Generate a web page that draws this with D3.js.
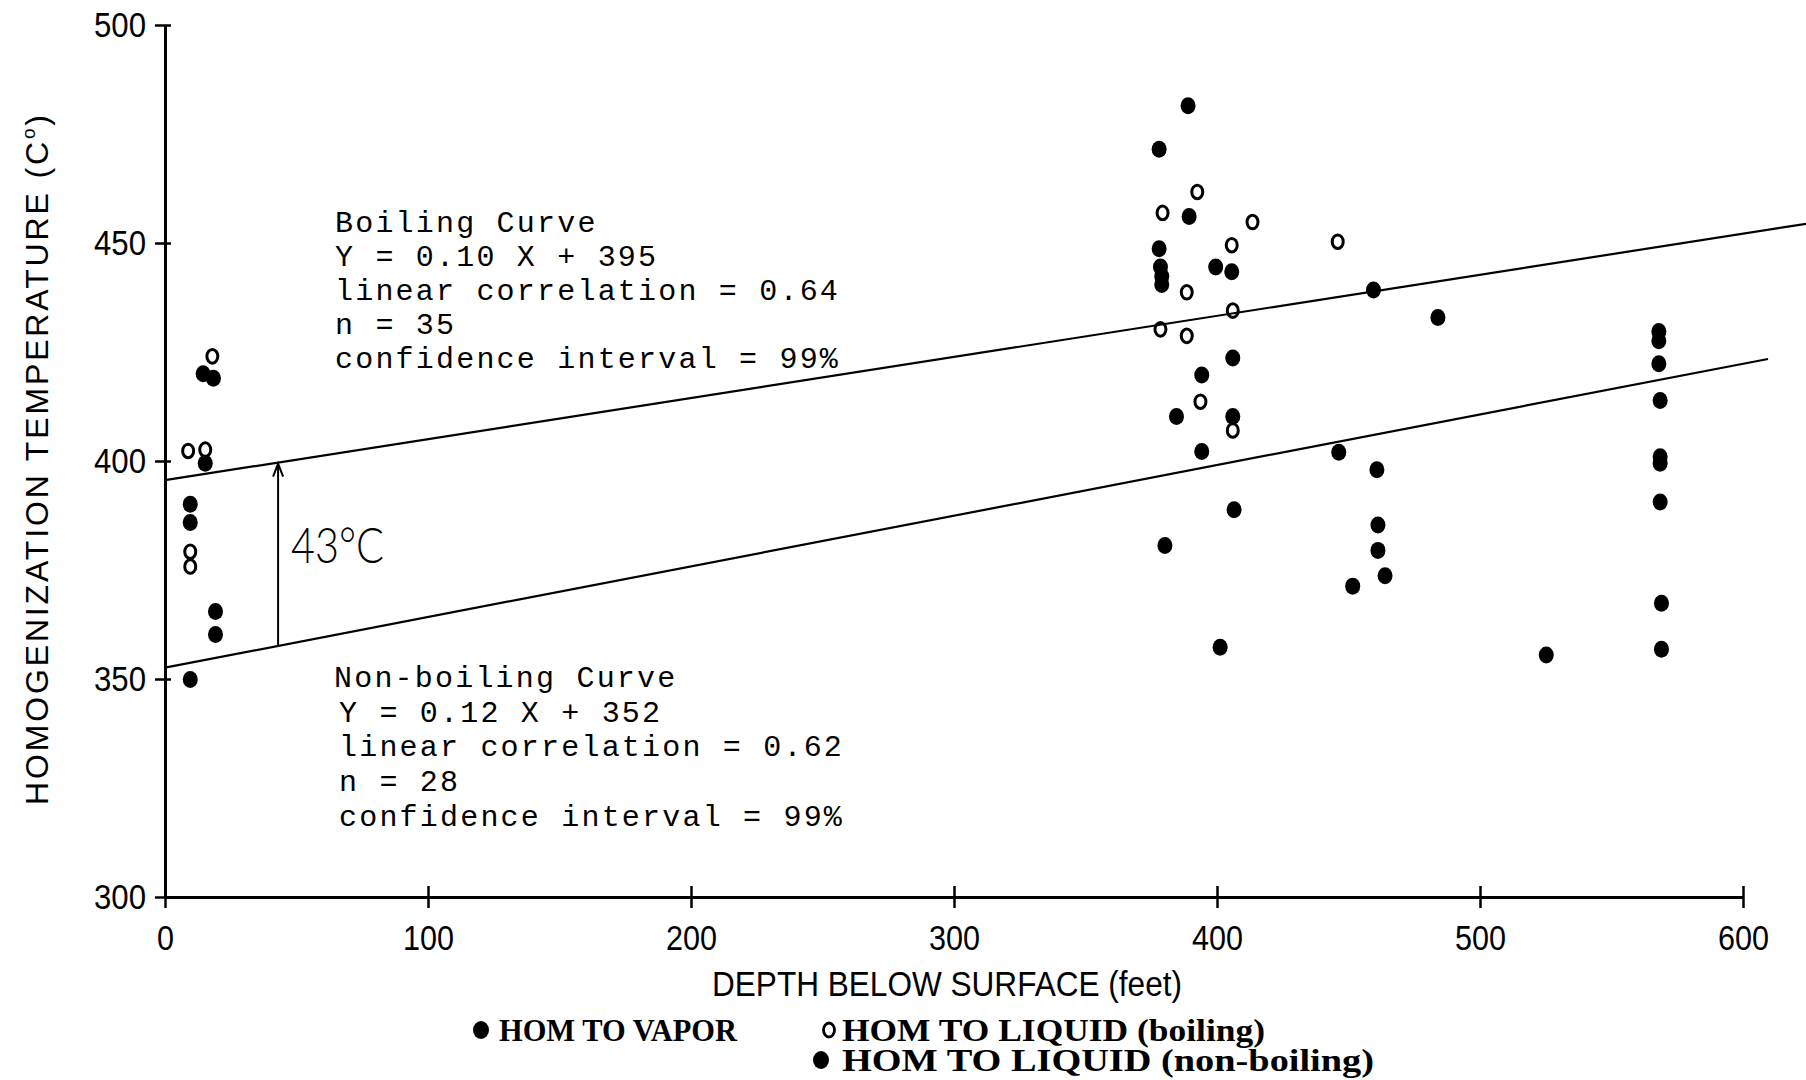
<!DOCTYPE html>
<html>
<head>
<meta charset="utf-8">
<script src="https://cdn.jsdelivr.net/npm/d3@7"></script>
<style>
body { margin: 0; background: #fff; }
svg { display: block; }
</style>
</head>
<body>
<svg id="chart" width="1806" height="1080"></svg>
<script>
var W = 1806, H = 1080;

// depth below surface (feet), homogenization temperature (C)
var vaporPts = [
    [14.5, 420], [18.4, 419], [15.3, 399.5],
    [389, 481.5], [378, 471.5], [389.4, 456.1], [378, 448.7], [378.5, 444.5], [379, 442.4], [379, 440.5],
    [399.5, 444.5], [405.6, 443.4], [459.5, 439.2], [484, 432.9], [406, 423.6], [394.2, 419.7],
    [568, 429.7], [568, 427.6], [568, 422.3]
];
var liquidBoilingPts = [
    [8.8, 402.3], [15.3, 402.6], [18, 424], [9.6, 379.2], [9.6, 375.8],
    [392.5, 461.7], [379.3, 456.9], [413.5, 454.8], [445.9, 450.3], [405.6, 449.5],
    [388.5, 438.7], [406, 434.5], [378.5, 430.2], [388.5, 428.7], [393.7, 413.6], [406, 407]
];
var liquidNonBoilingPts = [
    [9.6, 390.1], [9.6, 385.9], [19.2, 365.5], [19.2, 360.2], [9.6, 349.9],
    [384.6, 410.2], [406, 410.2], [394.2, 402.2], [446.3, 402], [460.8, 398],
    [406.5, 388.8], [461.2, 385.3], [380.2, 380.6], [461.2, 379.5], [463.9, 373.7],
    [451.6, 371.3], [401.2, 357.3], [525.2, 355.5],
    [568.5, 413.9], [568.5, 401], [568.5, 399.5], [568.5, 390.6], [569, 367.4], [569, 356.8]
];

// fitted lines as drawn on the plot: [depth, temperature] end points
var boilingLine = [[0, 395.6], [624, 454.4]];
var nonBoilingLine = [[0, 352.6], [609.5, 423.4]];
var gapDepth = 43;

var boilingText = ["Boiling Curve", "Y = 0.10 X + 395", "linear correlation = 0.64", "n = 35", "confidence interval = 99%"];
var nonBoilingText = ["Non-boiling Curve", "Y = 0.12 X + 352", "linear correlation = 0.62", "n = 28", "confidence interval = 99%"];

var xTicks = [0, 100, 200, 300, 400, 500, 600];
var yTicks = [300, 350, 400, 450, 500];

var legendItems = [
    { label: "HOM TO VAPOR", filled: true },
    { label: "HOM TO LIQUID (boiling)", filled: false },
    { label: "HOM TO LIQUID (non-boiling)", filled: true }
];

var svg = d3.select("#chart");
svg.append("rect").attr("width", W).attr("height", H).attr("fill", "#fff");

var x = d3.scaleLinear().domain([0, 600]).range([165, 1743]);
var y = d3.scaleLinear().domain([300, 500]).range([897, 25]);

var tickFont = "'Liberation Sans Narrow', 'Arial Narrow', 'Liberation Sans', sans-serif";

// x axis
var gx = svg.append("g")
    .attr("transform", "translate(0," + y(300) + ")")
    .call(d3.axisBottom(x).tickValues(xTicks).tickSize(11).tickSizeOuter(0).tickPadding(17));
gx.selectAll(".tick line").attr("y1", -11).attr("stroke-width", 2.5);
gx.select(".domain").attr("stroke-width", 3);
gx.selectAll("text").attr("font-family", tickFont).attr("font-size", 35).attr("fill", "#000")
    .attr("textLength", d => String(d).length * 17).attr("lengthAdjust", "spacingAndGlyphs");

// y axis
var gy = svg.append("g")
    .attr("transform", "translate(" + x(0) + ",0)")
    .call(d3.axisLeft(y).tickValues(yTicks).tickSize(10).tickSizeOuter(0).tickPadding(9));
gy.selectAll(".tick line").attr("x1", 6).attr("stroke-width", 2.5);
gy.select(".domain").attr("stroke-width", 3);
gy.selectAll("text").attr("font-family", tickFont).attr("font-size", 35).attr("fill", "#000")
    .attr("textLength", 52).attr("lengthAdjust", "spacingAndGlyphs");

// axis titles
svg.append("text")
    .attr("x", 947).attr("y", 996)
    .attr("text-anchor", "middle")
    .attr("font-family", tickFont).attr("font-size", 35)
    .attr("textLength", 470).attr("lengthAdjust", "spacingAndGlyphs")
    .text("DEPTH BELOW SURFACE (feet)");

var yt = svg.append("text")
    .attr("transform", "translate(48,460) rotate(-90)")
    .attr("text-anchor", "middle")
    .attr("font-family", "'Liberation Sans', Arial, sans-serif").attr("font-size", 32)
    .attr("textLength", 690).attr("lengthAdjust", "spacing");
yt.append("tspan").text("HOMOGENIZATION TEMPERATURE (C");
yt.append("tspan").attr("font-size", 19).attr("dy", -13).text("o");
yt.append("tspan").attr("dy", 13).text(")");

// fitted lines
var line = d3.line().x(d => x(d[0])).y(d => y(d[1]));
svg.append("g").selectAll("path")
    .data([boilingLine, nonBoilingLine])
    .join("path")
    .attr("d", line)
    .attr("fill", "none").attr("stroke", "#000").attr("stroke-width", 2.2);

// 43 C arrow between the curves
function at(l, d) {
    var t = (d - l[0][0]) / (l[1][0] - l[0][0]);
    return l[0][1] + t * (l[1][1] - l[0][1]);
}
var topY = y(at(boilingLine, gapDepth));
var botY = y(at(nonBoilingLine, gapDepth));
var ax = x(gapDepth);
svg.append("line")
    .attr("x1", ax).attr("x2", ax).attr("y1", topY + 2).attr("y2", botY)
    .attr("stroke", "#000").attr("stroke-width", 2);
svg.append("path")
    .attr("d", "M" + (ax - 5) + "," + (topY + 14) + "L" + ax + "," + (topY + 1) + "L" + (ax + 5) + "," + (topY + 14))
    .attr("fill", "none").attr("stroke", "#000").attr("stroke-width", 2);
svg.append("text")
    .attr("x", 291).attr("y", 563)
    .attr("font-family", "Lato, 'Open Sans', sans-serif").attr("font-weight", 300)
    .attr("font-size", 50)
    .attr("textLength", 93).attr("lengthAdjust", "spacingAndGlyphs")
    .text("43°C");

// annotation blocks
var monoFont = "'Liberation Mono', 'DejaVu Sans Mono', monospace";
svg.append("g").selectAll("text")
    .data(boilingText)
    .join("text")
    .attr("x", 335)
    .attr("y", (d, i) => 232 + i * 34)
    .attr("font-family", monoFont).attr("font-size", 30).attr("letter-spacing", 2.2)
    .text(d => d);
svg.append("g").selectAll("text")
    .data(nonBoilingText)
    .join("text")
    .attr("x", (d, i) => i == 0 ? 334 : 339)
    .attr("y", (d, i) => 687 + i * 34.7)
    .attr("font-family", monoFont).attr("font-size", 30).attr("letter-spacing", 2.2)
    .text(d => d);

// data points
var pts = svg.append("g");
pts.selectAll("ellipse.filled")
    .data(vaporPts.concat(liquidNonBoilingPts))
    .join("ellipse")
    .attr("class", "filled")
    .attr("cx", d => x(d[0])).attr("cy", d => y(d[1]))
    .attr("rx", 7.5).attr("ry", 8.5)
    .attr("fill", "#000");
pts.selectAll("ellipse.open")
    .data(liquidBoilingPts)
    .join("ellipse")
    .attr("class", "open")
    .attr("cx", d => x(d[0])).attr("cy", d => y(d[1]))
    .attr("rx", 5.5).attr("ry", 6.8)
    .attr("fill", "none").attr("stroke", "#000").attr("stroke-width", 3);

// legend
var legPos = [[481, 1041, 238], [829, 1041, 423], [821, 1071, 532]];
var leg = svg.append("g").selectAll("g")
    .data(legendItems)
    .join("g")
    .attr("transform", (d, i) => "translate(" + legPos[i][0] + "," + legPos[i][1] + ")");
leg.append("ellipse")
    .attr("cx", 0).attr("cy", -11)
    .attr("rx", d => d.filled ? 8 : 5.5).attr("ry", d => d.filled ? 9 : 7)
    .attr("fill", d => d.filled ? "#000" : "none")
    .attr("stroke", d => d.filled ? "none" : "#000")
    .attr("stroke-width", 2.8);
leg.append("text")
    .attr("x", (d, i) => i == 2 ? 21 : (i == 0 ? 18 : 13))
    .attr("y", 0)
    .attr("font-family", "'Liberation Serif', 'DejaVu Serif', serif")
    .attr("font-weight", "bold").attr("font-size", 31)
    .attr("textLength", (d, i) => legPos[i][2]).attr("lengthAdjust", "spacingAndGlyphs")
    .text(d => d.label);
</script>
</body>
</html>
